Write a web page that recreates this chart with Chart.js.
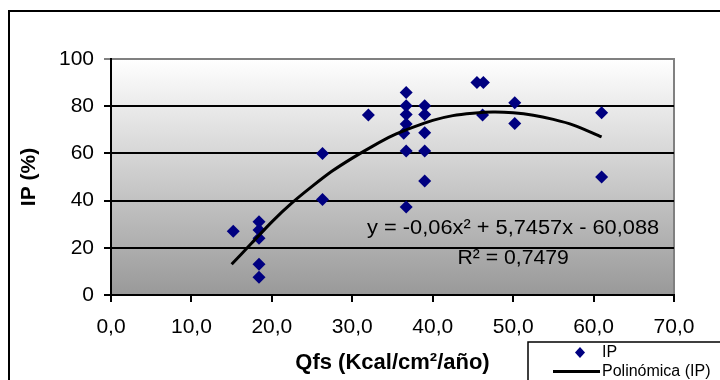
<!DOCTYPE html>
<html>
<head>
<meta charset="utf-8">
<script src="https://cdn.jsdelivr.net/npm/chart.js@4.4.0/dist/chart.umd.min.js"></script>
<style>
html, body { margin: 0; padding: 0; background: #fff; }
</style>
</head>
<body>
<canvas id="myChart" width="720" height="380"></canvas>
<script>
// observed points (Qfs, IP)
const qfs = [15.2, 18.4, 18.4, 18.4, 18.4, 18.4, 26.3, 26.3, 32.0,
  36.7, 36.7, 36.7, 36.7, 36.4, 36.7, 36.7,
  39.0, 39.0, 39.0, 39.0, 39.0, 45.5, 46.3, 46.2, 50.2, 50.2, 61.0, 61.0];
const ip = [27, 31, 27.5, 24, 13, 7.5, 60, 40.5, 76.3,
  85.8, 80.2, 76.5, 72.5, 68.5, 61, 37.3,
  80.2, 76.5, 68.7, 61, 48.3, 90, 90, 76.3, 81.5, 72.7, 77.2, 50];

// trend line
const trendX = [15, 17.5, 20, 22.5, 25, 27.5, 30, 32.5, 35, 37.5, 40, 42.5, 45, 47.5, 50, 52.5, 55, 57.5, 61];
const trendY = [13, 22, 31, 39, 46, 52.5, 58, 63, 67.5, 71, 74, 76, 77, 77.5, 77.2, 76.2, 74.4, 72, 67];

const equation = 'y = -0,06x² + 5,7457x - 60,088';
const rSquared = 'R² = 0,7479';

const FONT = '"Liberation Sans", Arial, sans-serif';
Chart.defaults.font.family = FONT;
Chart.defaults.color = '#000';

function wideText(ctx, txt, x, y, sx) {
  ctx.save();
  ctx.translate(x, y);
  ctx.scale(sx, 1);
  ctx.fillText(txt, 0, 0);
  ctx.restore();
}

const frame = {
  id: 'frame',
  beforeDraw(chart) {
    const { ctx, chartArea: a } = chart;
    ctx.save();
    ctx.fillStyle = '#fff';
    ctx.fillRect(0, 0, chart.width, chart.height);
    ctx.strokeStyle = '#000';
    ctx.lineWidth = 2;
    ctx.strokeRect(9, 11, chart.width, chart.height);
    const g = ctx.createLinearGradient(0, a.top, 0, a.bottom);
    g.addColorStop(0, '#ffffff');
    g.addColorStop(1, '#999999');
    ctx.fillStyle = g;
    ctx.fillRect(a.left, a.top, a.right - a.left, a.bottom - a.top);
    ctx.strokeStyle = '#808080';
    ctx.beginPath();
    ctx.moveTo(a.left, a.top);
    ctx.lineTo(a.right, a.top);
    ctx.lineTo(a.right, a.bottom);
    ctx.stroke();
    ctx.restore();
  },
  afterDraw(chart) {
    const { ctx } = chart;
    const xs = chart.scales.x, ys = chart.scales.y;
    ctx.save();
    ctx.fillStyle = '#000';
    ctx.font = '20px ' + FONT;
    ctx.textAlign = 'center';
    ctx.textBaseline = 'middle';
    wideText(ctx, equation, xs.getPixelForValue(50), ys.getPixelForValue(28), 1.09);
    wideText(ctx, rSquared, xs.getPixelForValue(50), ys.getPixelForValue(15.5), 1.06);

    // legend box
    const ds = chart.data.datasets;
    ctx.strokeStyle = '#000';
    ctx.lineWidth = 1.5;
    ctx.strokeRect(528, 342, 200, 50);
    ctx.font = '16px ' + FONT;
    ctx.textAlign = 'left';
    ctx.fillStyle = ds[1].backgroundColor;
    ctx.beginPath();
    ctx.moveTo(580, 347); ctx.lineTo(585, 352.5); ctx.lineTo(580, 358); ctx.lineTo(575, 352.5);
    ctx.closePath();
    ctx.fill();
    ctx.fillStyle = '#000';
    ctx.fillText(ds[1].label, 602, 353);
    ctx.strokeStyle = ds[0].borderColor;
    ctx.lineWidth = 3;
    ctx.beginPath();
    ctx.moveTo(553, 371.5); ctx.lineTo(600, 371.5);
    ctx.stroke();
    ctx.fillText(ds[0].label, 602, 372);
    ctx.restore();
  }
};

new Chart(document.getElementById('myChart'), {
  type: 'scatter',
  data: {
    datasets: [
      {
        type: 'line',
        label: 'Polinómica (IP)',
        data: trendX.map((x, i) => ({ x: x, y: trendY[i] })),
        borderColor: '#000',
        borderWidth: 3,
        pointRadius: 0,
        fill: false,
        tension: 0.3,
        order: 0
      },
      {
        label: 'IP',
        data: qfs.map((x, i) => ({ x: x, y: ip[i] })),
        pointStyle: 'rectRot',
        pointRadius: 6.5,
        backgroundColor: '#000080',
        borderColor: '#000080',
        borderWidth: 0,
        order: 1
      }
    ]
  },
  options: {
    responsive: false,
    animation: false,
    layout: { padding: { left: 0, top: 59, right: 46, bottom: 0 } },
    plugins: { legend: { display: false }, tooltip: { enabled: false } },
    scales: {
      x: {
        type: 'linear',
        min: 0,
        max: 70,
        afterFit: s => { s.height = 85; },
        ticks: {
          stepSize: 10,
          font: { size: 21 },
          padding: 13,
          callback: v => v.toFixed(1).replace('.', ',')
        },
        grid: { drawOnChartArea: false, drawTicks: true, tickLength: 7, color: '#000', lineWidth: 2 },
        border: { color: '#000', width: 2 },
        title: {
          display: true,
          text: 'Qfs (Kcal/cm²/año)',
          font: { size: 22, weight: 'bold' },
          padding: { top: 0, bottom: 4 }
        }
      },
      y: {
        min: 0,
        max: 100,
        afterFit: s => { s.width = 111; },
        ticks: { stepSize: 20, font: { size: 21 }, padding: 10 },
        grid: {
          color: c => (c.tick && c.tick.value === 100 ? '#808080' : '#000'),
          lineWidth: 2,
          tickLength: 7
        },
        border: { color: '#000', width: 2 },
        title: {
          display: true,
          text: 'IP (%)',
          font: { size: 21, weight: 'bold' },
          padding: { top: 17, bottom: 0 }
        }
      }
    }
  },
  plugins: [frame]
});
</script>
</body>
</html>
